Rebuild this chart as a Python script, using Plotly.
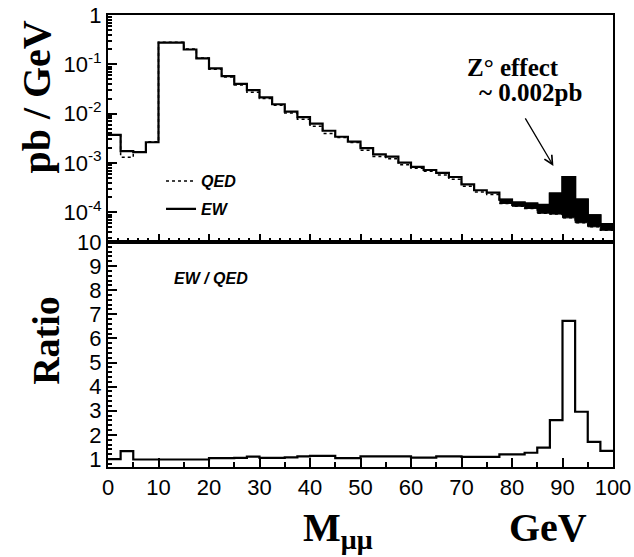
import plotly.graph_objects as go

# ---- data ----
bin_lo = [0, 2.5, 5, 7.5, 10, 12.5, 15, 17.5, 20, 22.5,
          25, 27.5, 30, 32.5, 35, 37.5, 40, 42.5, 45, 47.5,
          50, 52.5, 55, 57.5, 60, 62.5, 65, 67.5, 70, 72.5,
          75, 77.5, 80, 82.5, 85, 87.5, 90, 92.5, 95, 97.5]
bin_hi_last = 100

# EW cross section, pb/GeV
ew = [3.7e-3, 1.74e-3, 1.66e-3, 2.63e-3, 0.275, 0.275, 0.20, 0.132, 0.083, 0.0575,
      0.040, 0.030, 0.0214, 0.0155, 0.011, 0.0085, 0.0063, 0.0045, 0.0034, 0.0027,
      0.0020, 0.0015, 0.00135, 0.00102, 8.3e-4, 7.2e-4, 6.3e-4, 5.2e-4, 3.7e-4, 2.8e-4,
      2.5e-4, 1.8e-4, 1.58e-4, 1.51e-4, 1.41e-4, 2.4e-4, 5.2e-4, 1.82e-4, 8.7e-5, 5.8e-5]

# EW / QED ratio
ratio = [1.00, 1.33, 0.98, 0.98, 0.98, 0.98, 0.98, 0.98, 1.04, 1.04,
         1.05, 1.10, 1.05, 1.05, 1.07, 1.11, 1.13, 1.13, 1.04, 1.04,
         1.11, 1.11, 1.11, 1.11, 1.06, 1.06, 1.11, 1.11, 1.09, 1.09,
         1.09, 1.19, 1.19, 1.26, 1.47, 2.61, 6.73, 2.96, 1.71, 1.34]

qed = [e / r for e, r in zip(ew, ratio)]

x_ticks = [0, 10, 20, 30, 40, 50, 60, 70, 80, 90, 100]
ratio_ticks = [1, 2, 3, 4, 5, 6, 7, 8, 9, 10]
log_ticks = [1, 1e-1, 1e-2, 1e-3, 1e-4]
log_ticktext = ["1", "10<sup>-1</sup>", "10<sup>-2</sup>", "10<sup>-3</sup>", "10<sup>-4</sup>"]
log_minor = [m * 10.0 ** d for d in range(-5, 0) for m in range(2, 10)]

edges = bin_lo + [bin_hi_last]


def step(v):
    return list(v) + [v[-1]]


fig = go.Figure()

# top panel: QED (dotted) and EW (solid)
fig.add_trace(go.Scatter(x=edges, y=step(qed), mode="lines", name="QED",
                         line=dict(shape="hv", color="black", width=1.5, dash="dot"),
                         xaxis="x2", yaxis="y2", legendgroup="q"))
fig.add_trace(go.Scatter(x=edges, y=step(ew), mode="lines", name="EW",
                         line=dict(shape="hv", color="black", width=2.2),
                         xaxis="x2", yaxis="y2", legendgroup="e"))

# filled Z effect region (EW above QED)
k = bin_lo.index(77.5)
fig.add_trace(go.Scatter(x=edges[k:], y=step(qed[k:]), mode="lines",
                         line=dict(shape="hv", color="black", width=1),
                         xaxis="x2", yaxis="y2", showlegend=False))
fig.add_trace(go.Scatter(x=edges[k:], y=step(ew[k:]), mode="lines",
                         line=dict(shape="hv", color="black", width=2),
                         fill="tonexty", fillcolor="black",
                         xaxis="x2", yaxis="y2", showlegend=False))

# bottom panel: ratio
fig.add_trace(go.Scatter(x=edges, y=step(ratio), mode="lines",
                         line=dict(shape="hv", color="black", width=2.2),
                         xaxis="x", yaxis="y", showlegend=False))

tickfont = dict(family="Liberation Sans", size=22, color="black")
common = dict(showline=True, linecolor="black", linewidth=2, mirror=True,
              ticks="inside", tickcolor="black", tickwidth=1.5, showgrid=False,
              zeroline=False, tickfont=tickfont, automargin=False)

split = 0.498
fig.update_layout(
    width=634, height=557,
    margin=dict(l=108, r=21, t=15, b=90),
    paper_bgcolor="white", plot_bgcolor="white",
    xaxis=dict(domain=[0, 1], anchor="y", range=[0, 100], tickmode="array",
               tickvals=x_ticks, ticklen=9,
               minor=dict(dtick=5, ticklen=5, ticks="inside", tickcolor="black"),
               **common),
    xaxis2=dict(domain=[0, 1], anchor="y2", range=[0, 100], tickmode="array",
                tickvals=x_ticks, ticklen=8, showticklabels=False,
                minor=dict(dtick=2, ticklen=4, ticks="inside", tickcolor="black"),
                **common),
    yaxis=dict(domain=[0, split], anchor="x", range=[0.67, 10], tickmode="array",
               tickvals=ratio_ticks, ticklen=9,
               minor=dict(dtick=0.2, ticklen=4, ticks="inside", tickcolor="black"),
               **common),
    yaxis2=dict(domain=[split, 1], anchor="x2", type="log", range=[-4.6, 0],
                tickmode="array", tickvals=log_ticks, ticktext=log_ticktext, ticklen=9,
                minor=dict(tickmode="array", tickvals=log_minor, ticklen=4,
                           ticks="inside", tickcolor="black"),
                **common),
    showlegend=True,
    legend=dict(x=0.105, y=0.67, xanchor="left", yanchor="top",
                bgcolor="rgba(0,0,0,0)", tracegroupgap=4,
                font=dict(family="Liberation Sans", size=16, color="black",
                          style="italic", weight="bold")),
)

serif_bold = dict(family="Liberation Serif", color="black", weight="bold")
C = dict(xanchor="center", yanchor="middle", xref="paper", yref="paper", showarrow=False)

annotations = [
    dict(text="pb / GeV", x=-0.141, y=0.819, textangle=-90,
         font=dict(size=40, **serif_bold), **C),
    dict(text="Ratio", x=-0.122, y=0.28, textangle=-90,
         font=dict(size=38, **serif_bold), **C),
    dict(text="M<sub>μμ</sub>", x=0.455, y=-0.14,
         font=dict(size=40, **serif_bold), **C),
    dict(text="GeV", x=0.872, y=-0.133,
         font=dict(size=40, **serif_bold), **C),
    dict(text="Z° effect", x=0.801, y=0.884,
         font=dict(size=25, **serif_bold), **C),
    dict(text="~ 0.002pb", x=0.837, y=0.828,
         font=dict(size=25, **serif_bold), **C),
    dict(text="", x=88.2, y=-3.06, xref="x2", yref="y2", showarrow=True,
         ax=-29, ay=-49, arrowhead=5, arrowwidth=1.3, arrowsize=1.3, arrowcolor="black"),
    dict(text="EW / QED", x=0.204, y=0.416,
         font=dict(family="Liberation Sans", size=16, color="black",
                   style="italic", weight="bold"), **C),
]
fig.update_layout(annotations=annotations)

fig.write_html("out.html", config={"displayModeBar": False},
               post_script="document.body.style.margin='0';document.body.style.overflow='hidden';")
